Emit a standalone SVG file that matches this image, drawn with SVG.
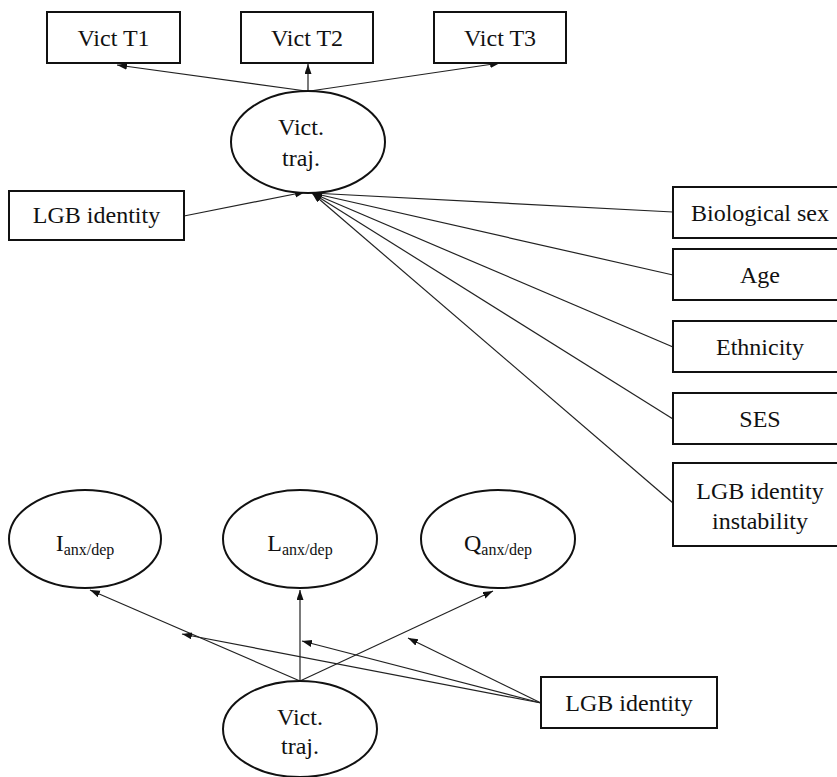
<svg xmlns="http://www.w3.org/2000/svg" width="837" height="777" viewBox="0 0 837 777">
<style>
.box{fill:#fff;stroke:#111;stroke-width:2}
.ell{fill:#fff;stroke:#111;stroke-width:2}
.t{font-family:"Liberation Serif","Times New Roman",serif;font-size:24px;fill:#111;text-anchor:middle}
.sub{font-size:16px}
.c{fill:none;stroke:#222;stroke-width:1.2;marker-end:url(#ah)}
</style>
<defs>
<marker id="ah" markerUnits="userSpaceOnUse" markerWidth="11" markerHeight="8" refX="10" refY="3.5" orient="auto">
<path d="M0,0 L10,3.5 L0,7 z" fill="#111"/>
</marker>
</defs>
<rect width="837" height="777" fill="#fff"/>
<g id="connectors">
<line class="c" x1="306" y1="91" x2="117" y2="65"/>
<line class="c" x1="308" y1="91" x2="308" y2="64"/>
<line class="c" x1="310" y1="91" x2="500" y2="63"/>
<line class="c" x1="184" y1="216" x2="305" y2="192"/>
<line class="c" x1="673" y1="212" x2="312" y2="193"/>
<line class="c" x1="673" y1="275" x2="312" y2="193"/>
<line class="c" x1="673" y1="347" x2="312" y2="193"/>
<line class="c" x1="673" y1="419" x2="312" y2="193"/>
<line class="c" x1="673" y1="503" x2="312" y2="193"/>
<line class="c" x1="300" y1="681" x2="90" y2="590"/>
<line class="c" x1="300" y1="681" x2="300" y2="590"/>
<line class="c" x1="300" y1="681" x2="493" y2="591"/>
<line class="c" x1="541" y1="703" x2="182" y2="634"/>
<line class="c" x1="541" y1="703" x2="302" y2="641"/>
<line class="c" x1="541" y1="703" x2="408" y2="638"/>
</g>
<g id="victT1"><rect class="box" x="47" y="12" width="133" height="51"/><text class="t" x="113.5" y="46">Vict T1</text></g>
<g id="victT2"><rect class="box" x="241" y="12" width="132" height="51"/><text class="t" x="307" y="46">Vict T2</text></g>
<g id="victT3"><rect class="box" x="434" y="12" width="132" height="51"/><text class="t" x="500" y="46">Vict T3</text></g>
<g id="victTraj1"><ellipse class="ell" cx="308" cy="142" rx="77" ry="51"/><text class="t" x="301" y="135">Vict.</text><text class="t" x="301" y="166">traj.</text></g>
<g id="lgb1"><rect class="box" x="9" y="191" width="175" height="49"/><text class="t" x="96.5" y="223">LGB identity</text></g>
<g id="sex"><rect class="box" x="673" y="187" width="175" height="51"/><text class="t" x="760" y="221">Biological sex</text></g>
<g id="age"><rect class="box" x="673" y="249" width="175" height="51"/><text class="t" x="760" y="283">Age</text></g>
<g id="eth"><rect class="box" x="673" y="321" width="175" height="51"/><text class="t" x="760" y="355">Ethnicity</text></g>
<g id="ses"><rect class="box" x="673" y="393" width="175" height="51"/><text class="t" x="760" y="427">SES</text></g>
<g id="instab"><rect class="box" x="673" y="463" width="175" height="83"/><text class="t" x="760" y="499">LGB identity</text><text class="t" x="760" y="529">instability</text></g>
<g id="iad"><ellipse class="ell" cx="85" cy="539" rx="76" ry="49"/><text class="t" x="85" y="551">I<tspan class="sub" dy="4">anx/dep</tspan></text></g>
<g id="lad"><ellipse class="ell" cx="300" cy="539" rx="77" ry="49"/><text class="t" x="300" y="551">L<tspan class="sub" dy="4">anx/dep</tspan></text></g>
<g id="qad"><ellipse class="ell" cx="498" cy="539" rx="77" ry="49"/><text class="t" x="498" y="551">Q<tspan class="sub" dy="4">anx/dep</tspan></text></g>
<g id="victTraj2"><ellipse class="ell" cx="300" cy="729" rx="77" ry="48"/><text class="t" x="300" y="725">Vict.</text><text class="t" x="300" y="754">traj.</text></g>
<g id="lgb2"><rect class="box" x="541" y="677" width="176" height="51"/><text class="t" x="629" y="711">LGB identity</text></g>
</svg>
